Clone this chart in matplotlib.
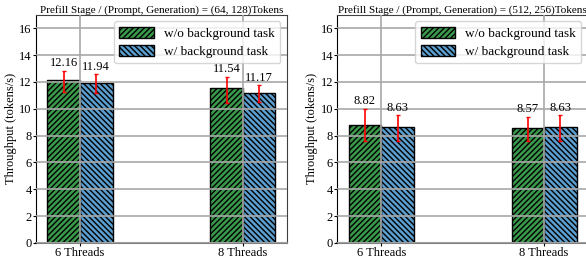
import matplotlib
matplotlib.use("Agg")
import matplotlib.pyplot as plt
import numpy as np

plt.rcParams['font.family'] = ['Liberation Serif', 'DejaVu Serif']
plt.rcParams['hatch.linewidth'] = 1.0

groups = ["6 Threads", "8 Threads"]
series = ["w/o background task", "w/ background task"]
colors = ["#3a9a4c", "#5b9fd0"]
hatches = ["//////", "\\\\\\\\\\\\"]

titles = ["Prefill Stage / (Prompt, Generation) = (64, 128)Tokens",
          "Prefill Stage / (Prompt, Generation) = (512, 256)Tokens"]

# values[panel][series][group]
values = [
    [[12.16, 11.54], [11.94, 11.17]],
    [[8.82, 8.57], [8.63, 8.63]],
]
# error bar ends (low, high)
err_low = [
    [[11.28, 10.46], [11.18, 10.49]],
    [[7.60, 7.60], [7.60, 7.60]],
]
err_high = [
    [[12.85, 12.40], [12.58, 11.78]],
    [[10.00, 9.42], [9.55, 9.55]],
]

fig = plt.figure(figsize=(5.86, 2.61), dpi=100)
axes = [fig.add_axes([0.0614, 0.069, 0.428, 0.874]),
        fig.add_axes([0.5755, 0.069, 0.428, 0.874])]

x = np.arange(len(groups))
w = 0.2
for p, ax in enumerate(axes):
    for s in range(2):
        v = np.array(values[p][s])
        lo = v - np.array(err_low[p][s])
        hi = np.array(err_high[p][s]) - v
        pos = x + (s - 0.5) * w
        ax.bar(pos, v, w, color=colors[s], hatch=hatches[s], edgecolor="black",
               linewidth=1.0, label=series[s], zorder=1)
        ax.errorbar(pos, v, yerr=[lo, hi], fmt="none", ecolor="red",
                    elinewidth=1.2, capsize=1.5, capthick=1.0, zorder=4)
        for xi, vi, top in zip(pos, v, err_high[p][s]):
            ax.text(xi, top + 0.1, f"{vi:.2f}", ha="center", va="bottom",
                    fontsize=9, zorder=5)
    ax.set_ylim(0, 17)
    ax.set_yticks(range(0, 17, 2))
    ax.set_xticks(x)
    ax.set_xticklabels(groups)
    ax.tick_params(labelsize=9, length=2, pad=1)
    ax.set_axisbelow(False)
    ax.grid(True, color="#a8a8a8", linewidth=1.2, zorder=3)
    ax.set_ylabel("Throughput (tokens/s)", fontsize=9, labelpad=2)
    ax.set_title(titles[p], fontsize=8, pad=1.5)
    ax.spines["left"].set_color("black")
    ax.spines["bottom"].set_color("#808080")
    ax.spines["bottom"].set_linewidth(1.5)
    ax.spines["top"].set_color("#404040")
    ax.spines["right"].set_color("#404040")
    ax.legend(loc="upper right", fontsize=9.5, handlelength=2.6,
              handleheight=0.9, borderpad=0.4, labelspacing=0.4)

fig.savefig("out.png", dpi=100)
